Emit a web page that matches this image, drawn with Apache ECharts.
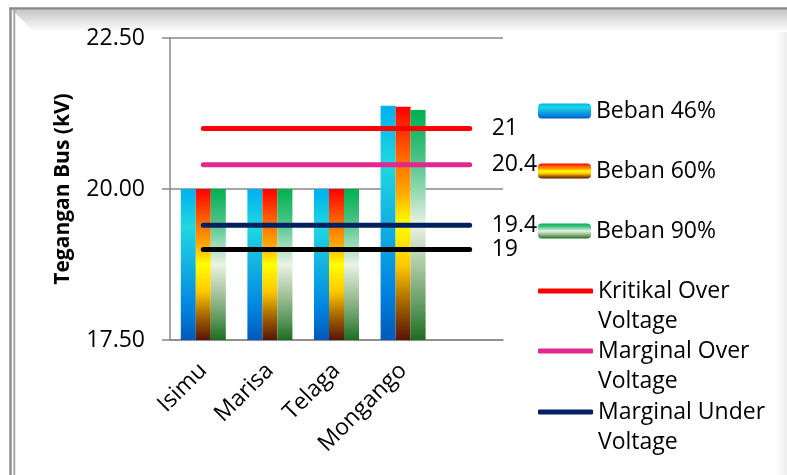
<!DOCTYPE html>
<html>
<head>
<meta charset="utf-8">
<script src="https://cdn.jsdelivr.net/npm/echarts@6/dist/echarts.min.js"></script>
<style>
  html, body { margin: 0; padding: 0; background: #fff; }
  #chart { width: 787px; height: 475px; }
</style>
</head>
<body>
<div id="chart"></div>
<script>
// 数据
var categories = ['Isimu', 'Marisa', 'Telaga', 'Mongango', ''];
var beban46 = [20.00, 20.00, 20.00, 21.38, null];
var beban60 = [20.00, 20.00, 20.00, 21.36, null];
var beban90 = [20.00, 20.00, 20.00, 21.31, null];
var kritikalOver = [21, 21, 21, 21, 21];
var marginalOver = [20.4, 20.4, 20.4, 20.4, 20.4];
var marginalUnder = [19.4, 19.4, 19.4, 19.4, 19.4];
var kritikalUnder = [19, 19, 19, 19, 19];
var yTicks = [17.5, 20, 22.5];

(function() {
  var myChart = echarts.init(document.getElementById('chart'));
  var font = 'Open Sans';

  // 柱子渐变色
  function grad(stops) {
    return new echarts.graphic.LinearGradient(0, 0, 0, 1, stops.map(function (s) {
      return { offset: s[0], color: s[1] };
    }));
  }
  var blueGrad = grad([[0, '#00b0f0'], [0.25, '#20d8e0'], [0.55, '#10aae2'], [0.8, '#0082e0'], [1, '#0058b8']]);
  var redGrad = grad([[0, '#ff0000'], [0.22, '#ff6a00'], [0.36, '#ffa400'], [0.5, '#ffff00'], [0.68, '#ffc800'], [0.85, '#a06000'], [1, '#581408']]);
  var greenGrad = grad([[0, '#00b050'], [0.2, '#44c282'], [0.36, '#98dab6'], [0.5, '#ebf3e4'], [0.7, '#a2c29a'], [0.86, '#5e985e'], [1, '#1c6e20']]);

  function barSeries(name, data, color) {
    return {
      name: name,
      type: 'bar',
      data: data,
      barWidth: 15,
      barGap: '0%',
      itemStyle: { color: color }
    };
  }
  function lineSeries(name, data, color) {
    return {
      name: name,
      type: 'line',
      data: data,
      symbol: 'none',
      lineStyle: { color: color, width: 5, cap: 'round' },
      itemStyle: { color: color },
      endLabel: {
        show: true,
        distance: 22,
        color: '#000',
        fontSize: 23,
        fontFamily: font,
        formatter: function (p) { return String(p.value); }
      }
    };
  }

  // 图例，每项单独放置
  var legendItems = [
    { name: 'Beban 46%', y: 111, line: false },
    { name: 'Beban 60%', y: 171, line: false },
    { name: 'Beban 90%', y: 231, line: false },
    { name: 'Kritikal Over Voltage', y: 291, line: true },
    { name: 'Marginal Over Voltage', y: 351, line: true },
    { name: 'Marginal Under Voltage', y: 412, line: true }
  ];
  var legends = legendItems.map(function (it) {
    return {
      data: [it.name],
      left: 538,
      top: it.line ? it.y - 45 : it.y - 15,
      padding: 0,
      itemWidth: it.line ? 55 : 53,
      itemHeight: it.line ? 5 : 15,
      icon: it.line ? 'roundRect' : undefined,
      selectedMode: false,
      // 两行文字：首行空出，使图标对准第一行
      formatter: function (n) {
        return n.indexOf(' Voltage') > 0 ? '\n' + n.replace(' Voltage', '\nVoltage') : n;
      },
      textStyle: {
        color: '#000',
        fontSize: 23,
        fontFamily: font,
        lineHeight: 30
      }
    };
  });

  var option = {
    animation: false,
    backgroundColor: '#fff',
    // 外框
    graphic: [
      { type: 'polygon', silent: true, shape: { points: [[12, 10], [787, 10], [787, 32], [34, 32]] },
        style: { fill: new echarts.graphic.LinearGradient(0, 0, 0, 1, [{ offset: 0, color: '#c8c8c8' }, { offset: 1, color: '#ffffff' }]) } },
      { type: 'rect', silent: true, shape: { x: 776, y: 32, width: 11, height: 443 },
        style: { fill: new echarts.graphic.LinearGradient(0, 0, 1, 0, [{ offset: 0, color: '#ffffff' }, { offset: 1, color: '#ececec' }]) } },
      { type: 'line', silent: true, shape: { x1: 9, y1: 8.5, x2: 787, y2: 8.5 }, style: { stroke: '#8a8a8a', lineWidth: 2.5 } },
      { type: 'line', silent: true, shape: { x1: 10.5, y1: 8, x2: 10.5, y2: 475 }, style: { stroke: '#8e8e8e', lineWidth: 2.5 } },
      { type: 'line', silent: true, shape: { x1: 14.3, y1: 10, x2: 14.3, y2: 475 }, style: { stroke: '#a8a8a8', lineWidth: 2 } }
    ],
    legend: legends,
    grid: {
      left: 170,
      right: 284,
      top: 38,
      bottom: 135
    },
    xAxis: {
      type: 'category',
      data: categories,
      axisLine: { lineStyle: { color: '#888', width: 1.5 } },
      axisTick: { length: 8, lineStyle: { color: '#888', width: 1.5 } },
      axisLabel: {
        rotate: 45,
        margin: 27,
        interval: 0,
        color: '#000',
        fontSize: 23,
        fontFamily: font
      }
    },
    yAxis: {
      type: 'value',
      min: yTicks[0],
      max: yTicks[yTicks.length - 1],
      interval: yTicks[1] - yTicks[0],
      name: 'Tegangan Bus (kV)',
      nameLocation: 'middle',
      nameGap: 96,
      nameTextStyle: { color: '#000', fontSize: 21, fontWeight: 'bold', fontFamily: font },
      axisLine: { show: true, lineStyle: { color: '#888', width: 1.5 } },
      axisTick: { show: true, length: 8, lineStyle: { color: '#888', width: 1.5 } },
      axisLabel: {
        margin: 25,
        color: '#000',
        fontSize: 23,
        fontFamily: font,
        formatter: function (v) { return v.toFixed(2); }
      },
      splitLine: { lineStyle: { color: '#888', width: 1.5 } }
    },
    series: [
      barSeries('Beban 46%', beban46, blueGrad),
      barSeries('Beban 60%', beban60, redGrad),
      barSeries('Beban 90%', beban90, greenGrad),
      lineSeries('Kritikal Over Voltage', kritikalOver, '#ff0000'),
      lineSeries('Marginal Over Voltage', marginalOver, '#e0288f'),
      lineSeries('Marginal Under Voltage', marginalUnder, '#002060'),
      lineSeries('Kritikal Under Voltage', kritikalUnder, '#000000')
    ]
  };
  myChart.setOption(option);
  window.addEventListener('resize', function () {
    myChart.resize();
  });
})();
</script>
</body>
</html>
